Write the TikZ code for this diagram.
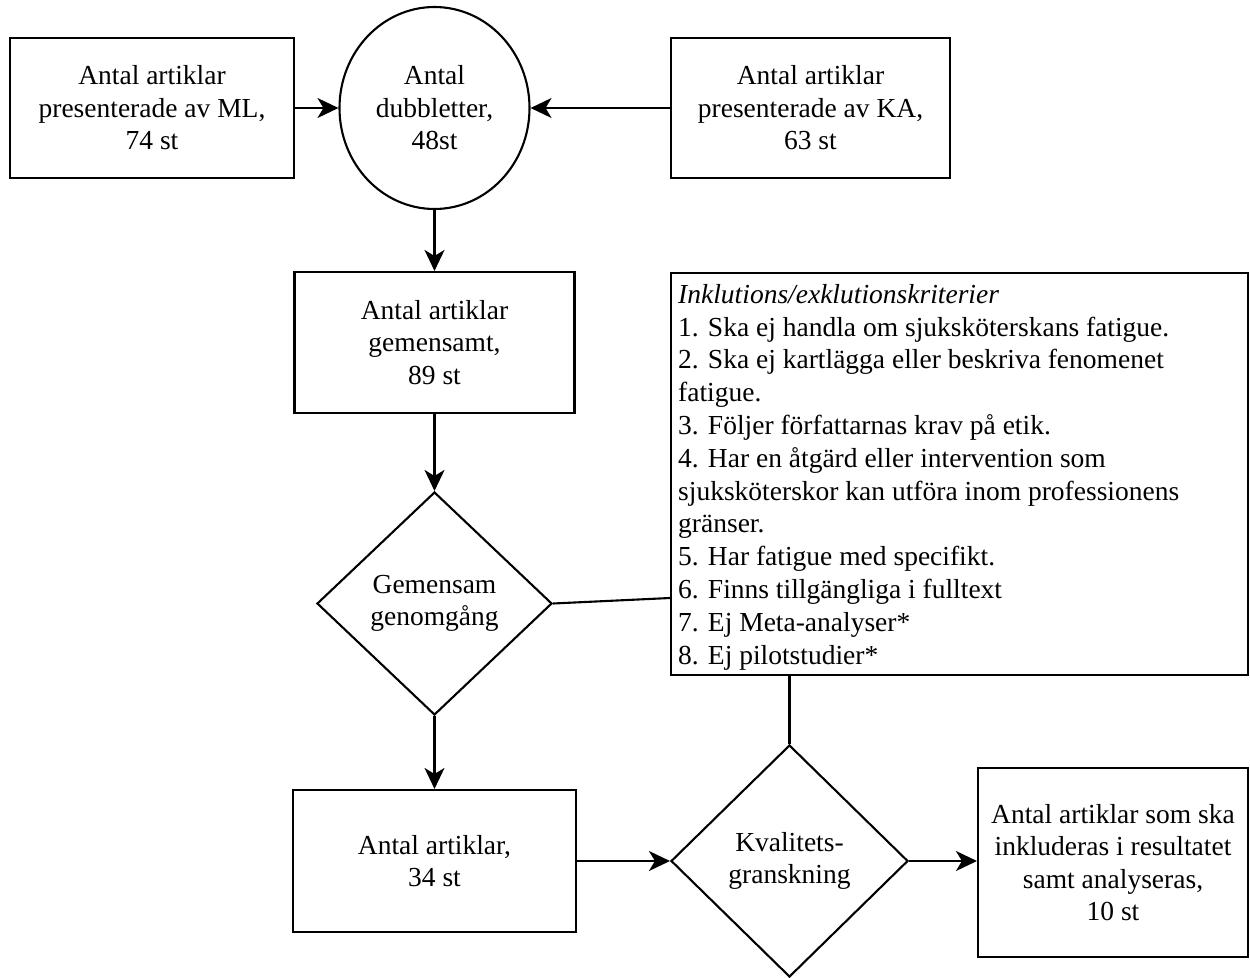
\documentclass[tikz,border=0pt]{standalone}
\usepackage{fontspec}
\setmainfont{Liberation Serif}
\usetikzlibrary{shapes.geometric,arrows.meta}
\begin{document}
\begin{tikzpicture}[x=1pt,y=-1pt,
  every node/.style={font=\fontsize{27.5}{32.5}\selectfont, inner sep=0pt, align=center},
  box/.style={draw, line width=2.1pt, rectangle},
  ell/.style={draw, line width=2.1pt, ellipse},
  dia/.style={draw, line width=2.1pt, diamond},
  arr/.style={line width=2.1pt, -{Stealth[length=21pt,width=20pt,inset=6pt]}},
  ln/.style={line width=2.1pt}]
\useasboundingbox (0,0) rectangle (1250,977);
\fill[white] (0,0) rectangle (1250,977);
\node[box, minimum width=284pt, minimum height=140pt] (ml) at (152,108) {Antal artiklar\\presenterade av ML,\\74 st};
\node[ell, minimum width=190pt, minimum height=202pt] (dub) at (434.5,108) {Antal\\dubbletter,\\48st};
\node[box, minimum width=279pt, minimum height=140pt] (ka) at (810.5,108) {Antal artiklar\\presenterade av KA,\\63 st};
\node[box, minimum width=280pt, minimum height=141pt] (gem) at (434.5,342.5) {Antal artiklar\\gemensamt,\\89 st};
\node[dia, minimum width=235pt, minimum height=223pt] (gg) at (434.5,603.5) {Gemensam\\genomgång};
\node[box, minimum width=577pt, minimum height=402pt] (krit) at (959.5,474) {};
\node[anchor=north west, align=left, font=\fontsize{27.5}{32.8}\selectfont] (kt) at (678,284) {\textit{Inklutions/exklutionskriterier}\\
1. Ska ej handla om sjuksköterskans fatigue.\\
2. Ska ej kartlägga eller beskriva fenomenet\\
fatigue.\\
3. Följer författarnas krav på etik.\\
4. Har en åtgärd eller intervention som\\
sjuksköterskor kan utföra inom professionens\\
gränser.\\
5. Har fatigue med specifikt.\\
6. Finns tillgängliga i fulltext\\
7. Ej Meta-analyser*\\
8. Ej pilotstudier*};
\node[box, minimum width=283pt, minimum height=142pt] (a34) at (434.5,861) {Antal artiklar,\\34 st};
\node[dia, minimum width=237pt, minimum height=232pt] (kv) at (789.5,861) {Kvalitets-\\granskning};
\node[box, minimum width=270pt, minimum height=189pt] (res) at (1113,862.5) {Antal artiklar som ska\\inkluderas i resultatet\\samt analyseras,\\10 st};
\draw[arr] (ml.east) -- (dub.west);
\draw[arr] (ka.west) -- (dub.east);
\draw[arr] (dub.south) -- (gem.north);
\draw[arr] (gem.south) -- (gg.north);
\draw[ln] (gg.east) -- (krit.west |- 0,598);
\draw[arr] (gg.south) -- (a34.north);
\draw[ln] (krit.south -| kv.north) -- (kv.north);
\draw[arr] (a34.east) -- (kv.west);
\draw[arr] (kv.east) -- (kv.east -| res.west);
\end{tikzpicture}
\end{document}
